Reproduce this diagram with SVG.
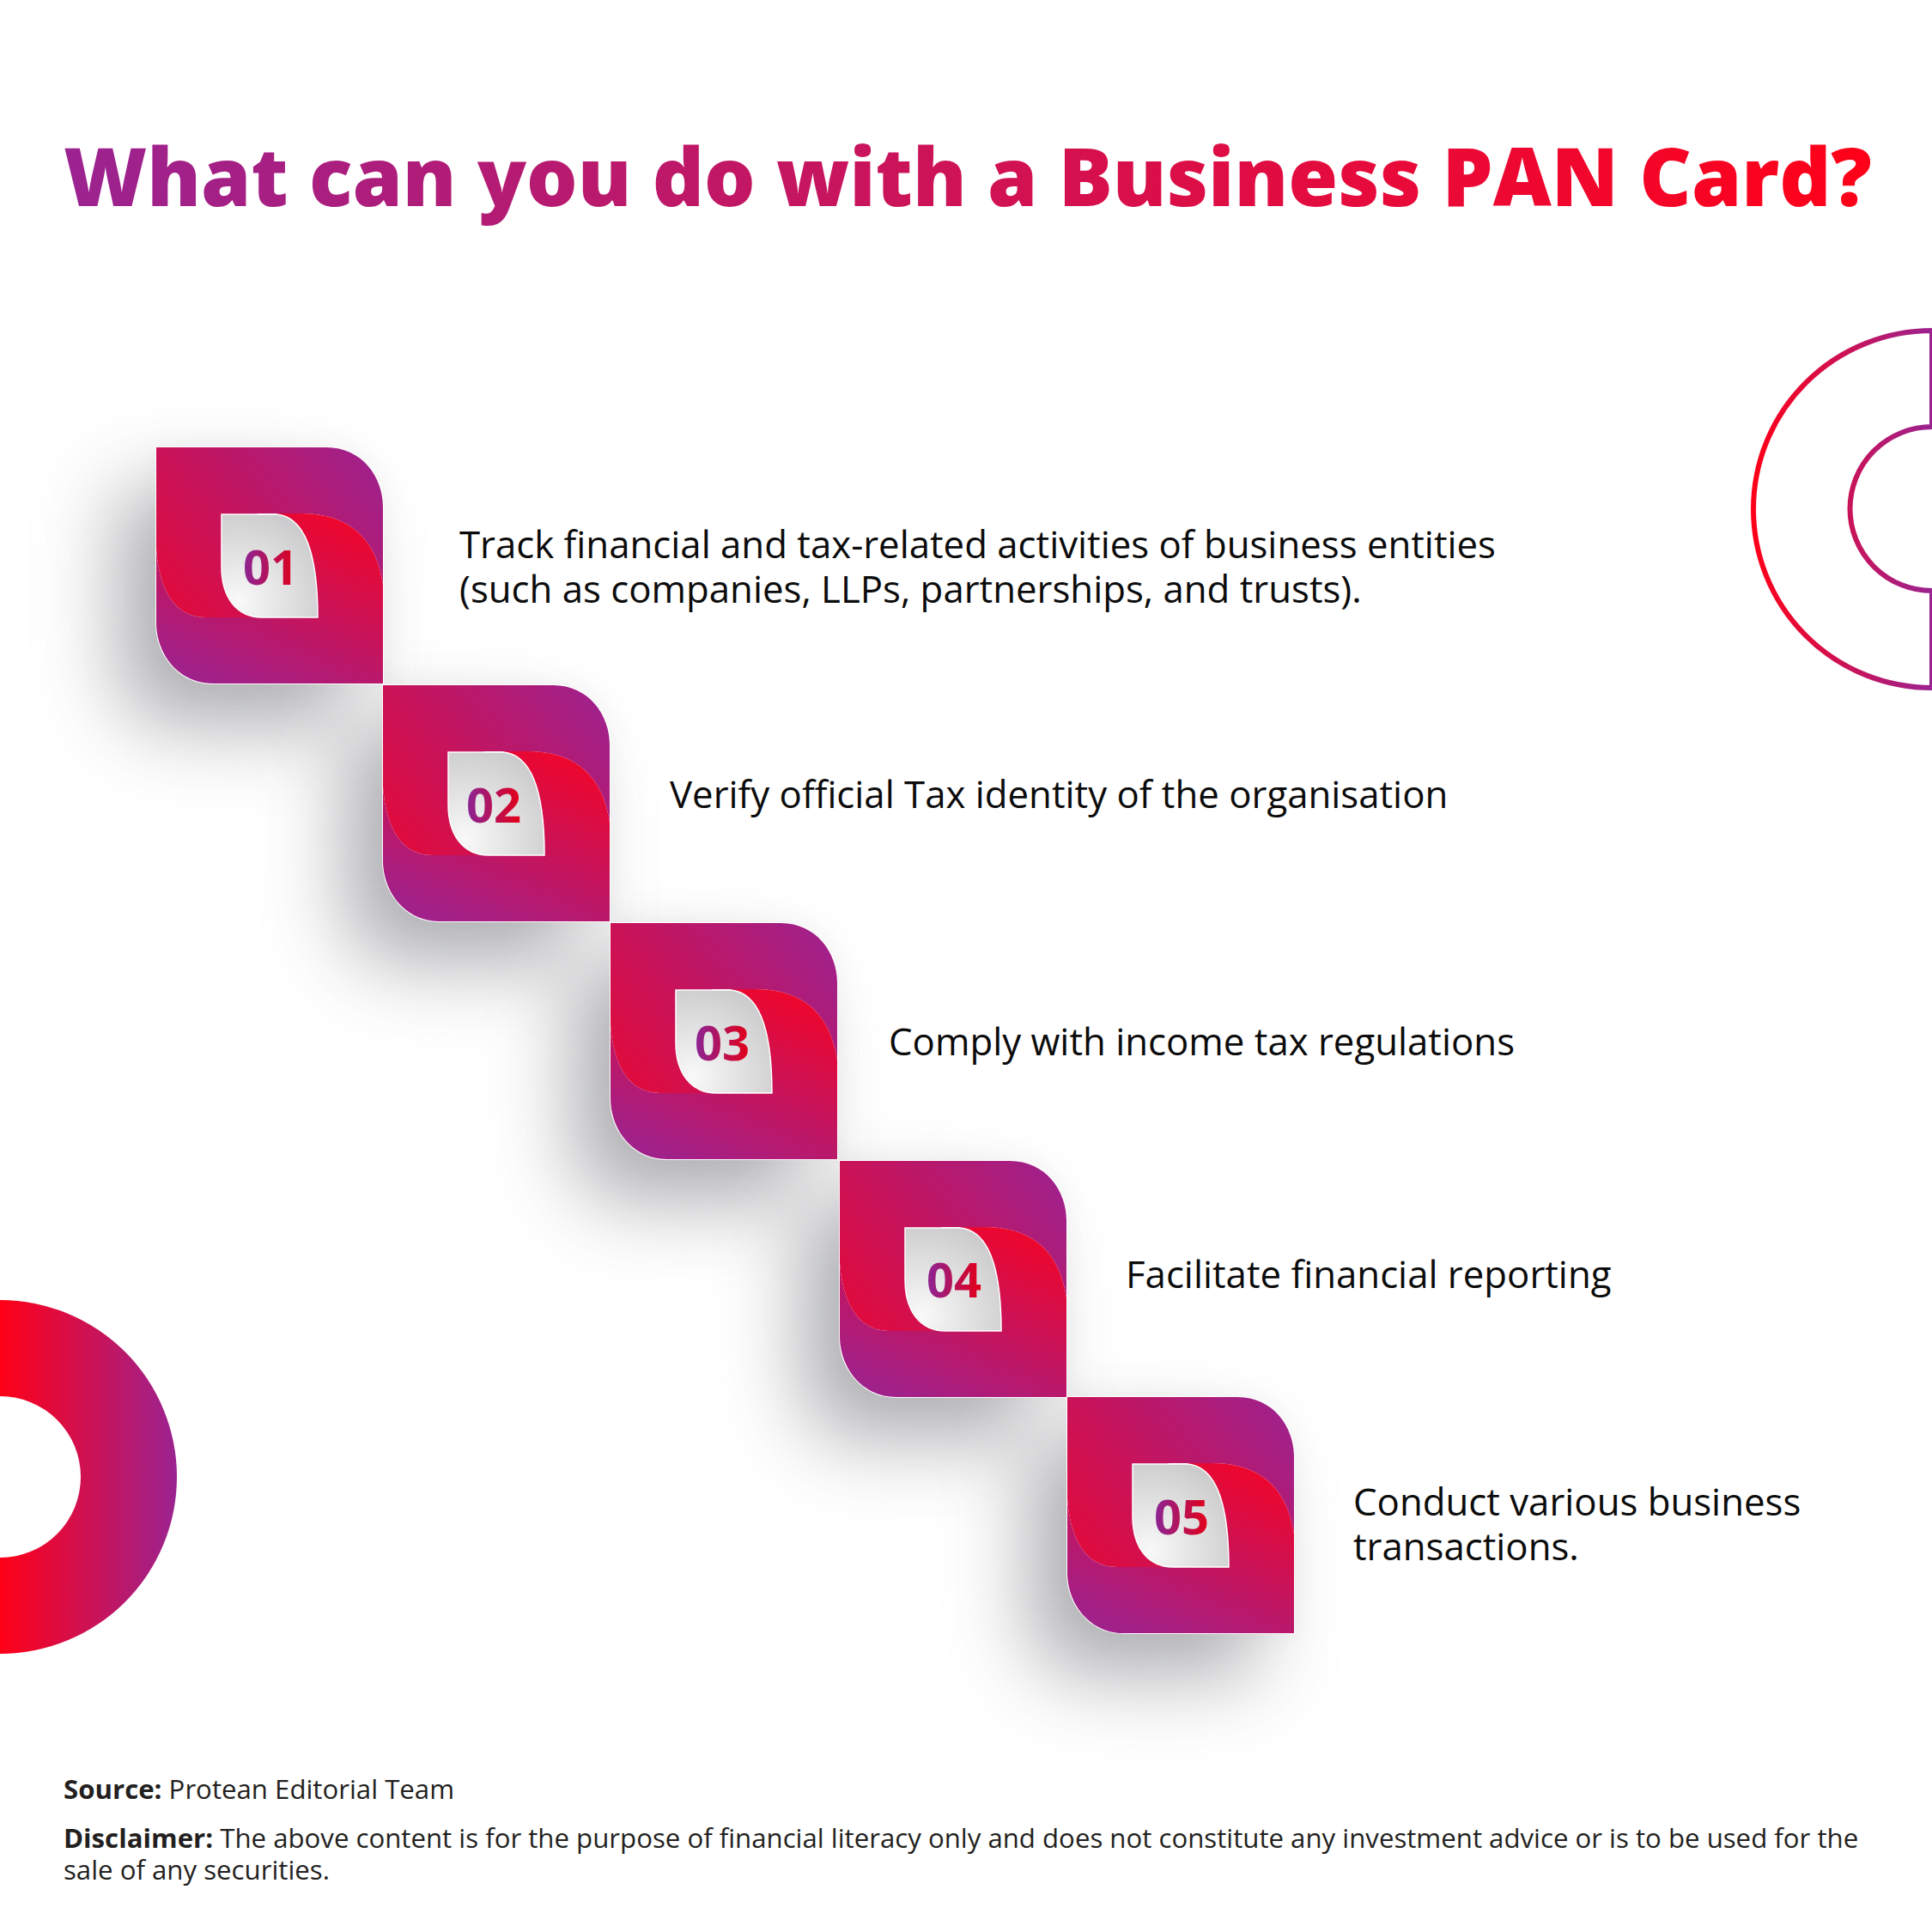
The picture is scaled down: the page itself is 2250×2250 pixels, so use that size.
<svg xmlns="http://www.w3.org/2000/svg" xmlns:xlink="http://www.w3.org/1999/xlink" width="2250" height="2250" viewBox="0 0 2250 2250">
<style>
.t{font-family:"Open Sans","Noto Sans",sans-serif;font-size:43.75px;fill:#0b0b0b}
.f{font-family:"Open Sans","Noto Sans",sans-serif;font-size:31.2px;fill:#231f20}
.n{font-family:"Open Sans","Noto Sans",sans-serif;font-size:56px;font-weight:700;fill:url(#num)}
.title{font-family:"Open Sans","Noto Sans",sans-serif;font-size:93.7px;font-weight:800;fill:url(#ttl)}
</style>
<defs>
<linearGradient id="ttl" gradientUnits="userSpaceOnUse" x1="74" y1="0" x2="2180" y2="0"><stop offset="0" stop-color="#9b2390"/><stop offset=".75" stop-color="#e90a38"/><stop offset="1" stop-color="#ff0018"/></linearGradient>
<linearGradient id="num" x1="0" y1="0" x2="1" y2="0"><stop offset=".05" stop-color="#8f2390"/><stop offset=".95" stop-color="#e0001c"/></linearGradient>
<linearGradient id="a" gradientUnits="userSpaceOnUse" x1="433" y1="540" x2="153" y2="750"><stop offset="0" stop-color="#a0218a"/><stop offset="1" stop-color="#ee062c"/></linearGradient>
<linearGradient id="b" gradientUnits="userSpaceOnUse" x1="200" y1="773" x2="291" y2="559"><stop offset="0" stop-color="#a0218a"/><stop offset="1" stop-color="#ee062c"/></linearGradient>
<radialGradient id="leaf" gradientUnits="userSpaceOnUse" cx="278" cy="700" r="125"><stop offset="0" stop-color="#f9f9f9"/><stop offset="1" stop-color="#c5c5c7"/></radialGradient>
<linearGradient id="ringL" gradientUnits="userSpaceOnUse" x1="0" y1="0" x2="206" y2="0"><stop offset="0" stop-color="#ff0018"/><stop offset="1" stop-color="#9b2390"/></linearGradient>
<linearGradient id="ringR" gradientUnits="userSpaceOnUse" x1="2042" y1="0" x2="2250" y2="0"><stop offset="0" stop-color="#ff0018"/><stop offset="1" stop-color="#9b2390"/></linearGradient>
<filter id="blur" filterUnits="userSpaceOnUse" x="-200" y="200" width="1000" height="1100"><feGaussianBlur stdDeviation="47"/></filter>
<filter id="blur2" filterUnits="userSpaceOnUse" x="-200" y="200" width="1000" height="1100"><feGaussianBlur stdDeviation="14"/></filter>
<path id="outline" d="M182 521H380C422 521 446 556 446 590V796H248C208 796 182 762 182 725Z"/>
<g id="shadow">
<use xlink:href="#outline" transform="translate(-45 50)" fill="#8f9094" opacity=".72" filter="url(#blur)"/>
<use xlink:href="#outline" fill="#a8a9ad" opacity=".12" filter="url(#blur2)"/>
</g>
<g id="tile">
<use xlink:href="#outline" fill="#fff" stroke="#fff" stroke-width="2"/>
<path fill="url(#a)" d="M182 521H380C422 521 446 556 446 590V680C438 630 410 598 350 598H300V719H240C205 719 186 690 182 640Z"/>
<path fill="url(#b)" d="M182 640C186 690 205 719 240 719H340V640L322 598H350C410 598 438 630 446 680V796H248C208 796 182 762 182 725Z"/>
<path fill="url(#leaf)" stroke="#fff" stroke-width="1.5" d="M258 599H322C355 602 370 645 370 719H305C275 719 258 695 258 660Z"/>
</g>
</defs>
<rect width="2250" height="2250" fill="#fff"/>
<text class="title" x="74" y="240" id="title">What can you do with a Business PAN Card?</text>
<path id="ring-right" fill="none" stroke="url(#ringR)" stroke-width="6" d="M2250 385V497A95.500 95.500 0 0 0 2250 688V801A208 208 0 0 1 2250 385Z"/>
<path id="ring-left" fill="url(#ringL)" fill-rule="evenodd" d="M0 1514A206 206 0 0 1 0 1926V1814A94 94 0 0 0 0 1626Z"/>
<g id="shadows">
<use xlink:href="#shadow"/>
<use xlink:href="#shadow" x="264" y="277"/>
<use xlink:href="#shadow" x="529" y="554"/>
<use xlink:href="#shadow" x="796" y="831"/>
<use xlink:href="#shadow" x="1061" y="1106"/>
</g>
<g id="node-1"><use xlink:href="#tile"/><text class="n" x="283" y="681">01</text><text class="t" x="535" y="650">Track financial and tax-related activities of business entities</text><text class="t" x="535" y="702">(such as companies, LLPs, partnerships, and trusts).</text></g>
<g id="node-2"><use xlink:href="#tile" x="264" y="277"/><text class="n" x="543" y="958">02</text><text class="t" x="780" y="941">Verify official Tax identity of the organisation</text></g>
<g id="node-3"><use xlink:href="#tile" x="529" y="554"/><text class="n" x="809" y="1235">03</text><text class="t" x="1035" y="1229">Comply with income tax regulations</text></g>
<g id="node-4"><use xlink:href="#tile" x="796" y="831"/><text class="n" x="1079" y="1511">04</text><text class="t" x="1311" y="1500">Facilitate financial reporting</text></g>
<g id="node-5"><use xlink:href="#tile" x="1061" y="1106"/><text class="n" x="1344" y="1787">05</text><text class="t" x="1576" y="1765">Conduct various business</text><text class="t" x="1576" y="1817">transactions.</text></g>
<g id="footer">
<text class="f" x="74" y="2095"><tspan font-weight="700">Source:</tspan> Protean Editorial Team</text>
<text class="f" x="74" y="2152"><tspan font-weight="700">Disclaimer:</tspan> The above content is for the purpose of financial literacy only and does not constitute any investment advice or is to be used for the</text>
<text class="f" x="74" y="2189">sale of any securities.</text>
</g>
</svg>
